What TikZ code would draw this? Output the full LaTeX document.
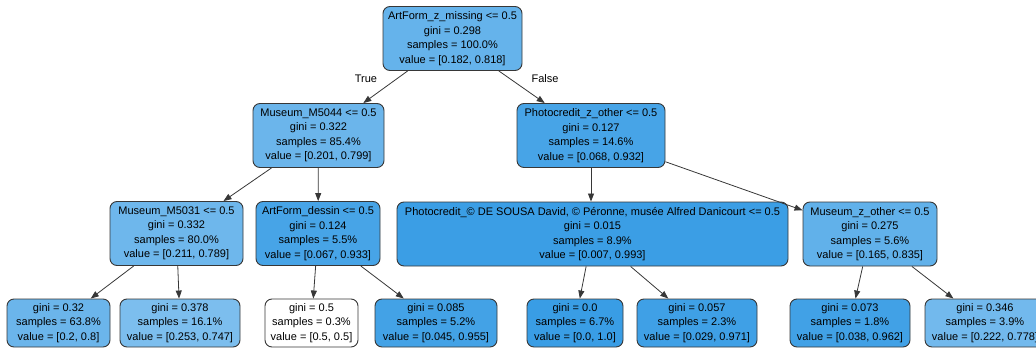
\documentclass[tikz,border=0pt]{standalone}
\usepackage{fontspec}
\setmainfont{Liberation Sans}
\usetikzlibrary{arrows.meta}
\definecolor{sk}{RGB}{57,157,229}
\definecolor{edgegray}{RGB}{55,55,55}
\tikzset{
  tn/.style={draw=edgegray, line width=0.9pt, rounded corners=7pt, align=center,
    inner sep=0pt, font=\fontsize{11}{14.5}\selectfont, text=black},
  split/.style={tn, minimum height=64pt},
  leaf/.style={tn, minimum height=48pt},
  conn/.style={draw=edgegray, line width=0.8pt, -{Triangle[length=8pt,width=6pt]}},
  lbl/.style={font=\fontsize{11}{13}\selectfont, text=black}
}
\begin{document}
\begin{tikzpicture}[x=1pt,y=-1pt]
\useasboundingbox (0,0) rectangle (1036,350);
% level 0
\node[split, minimum width=139pt, fill=sk!78!white] (root) at (452.5,38.5)
  {ArtForm\_z\_missing <= 0.5\\gini = 0.298\\samples = 100.0\%\\value = [0.182, 0.818]};
% level 1
\node[split, minimum width=131pt, fill=sk!75!white] (m5044) at (318.5,135.5)
  {Museum\_M5044 <= 0.5\\gini = 0.322\\samples = 85.4\%\\value = [0.201, 0.799]};
\node[split, minimum width=148pt, fill=sk!93!white] (pzo) at (591,135.5)
  {Photocredit\_z\_other <= 0.5\\gini = 0.127\\samples = 14.6\%\\value = [0.068, 0.932]};
% level 2
\node[split, minimum width=133pt, fill=sk!73!white] (m5031) at (176.5,233.5)
  {Museum\_M5031 <= 0.5\\gini = 0.332\\samples = 80.0\%\\value = [0.211, 0.789]};
\node[split, minimum width=124pt, fill=sk!93!white] (afd) at (318,233.5)
  {ArtForm\_dessin <= 0.5\\gini = 0.124\\samples = 5.5\%\\value = [0.067, 0.933]};
\node[split, minimum width=391pt, fill=sk!99!white] (sousa) at (592.5,234)
  {Photocredit\_© DE SOUSA David, © Péronne, musée Alfred Danicourt <= 0.5\\gini = 0.015\\samples = 8.9\%\\value = [0.007, 0.993]};
\node[split, minimum width=134pt, fill=sk!80!white] (mzo) at (870,234)
  {Museum\_z\_other <= 0.5\\gini = 0.275\\samples = 5.6\%\\value = [0.165, 0.835]};
% level 3
\node[leaf, minimum width=103pt, fill=sk!75!white] (l1) at (58.5,323)
  {gini = 0.32\\samples = 63.8\%\\value = [0.2, 0.8]};
\node[leaf, minimum width=120pt, fill=sk!66!white] (l2) at (180,323)
  {gini = 0.378\\samples = 16.1\%\\value = [0.253, 0.747]};
\node[leaf, minimum width=93pt, fill=white] (l3) at (311.5,323)
  {gini = 0.5\\samples = 0.3\%\\value = [0.5, 0.5]};
\node[leaf, minimum width=122pt, fill=sk!95!white] (l4) at (436,323)
  {gini = 0.085\\samples = 5.2\%\\value = [0.045, 0.955]};
\node[leaf, minimum width=96pt, fill=sk] (l5) at (575,323)
  {gini = 0.0\\samples = 6.7\%\\value = [0.0, 1.0]};
\node[leaf, minimum width=120pt, fill=sk!97!white] (l6) at (697,323)
  {gini = 0.057\\samples = 2.3\%\\value = [0.029, 0.971]};
\node[leaf, minimum width=120pt, fill=sk!96!white] (l7) at (850,323)
  {gini = 0.073\\samples = 1.8\%\\value = [0.038, 0.962]};
\node[leaf, minimum width=120pt, fill=sk!71!white] (l8) at (985,323)
  {gini = 0.346\\samples = 3.9\%\\value = [0.222, 0.778]};
% edges
\draw[conn] (root) -- (m5044);
\draw[conn] (root) -- (pzo);
\draw[conn] (m5044) -- (m5031);
\draw[conn] (m5044) -- (afd);
\draw[conn] (pzo.south) -- (sousa.north -| pzo.south);
\draw[conn] (pzo) -- (mzo);
\draw[conn] (m5031) -- (l1);
\draw[conn] (m5031) -- (l2);
\draw[conn] (afd) -- (l3);
\draw[conn] (afd) -- (l4);
\draw[conn] (sousa) -- (l5);
\draw[conn] (sousa) -- (l6);
\draw[conn] (mzo) -- (l7);
\draw[conn] (mzo) -- (l8);
% labels
\node[lbl] (t) at (366,79) {True};
\node[lbl] (f) at (545,79) {False};
\end{tikzpicture}
\end{document}
